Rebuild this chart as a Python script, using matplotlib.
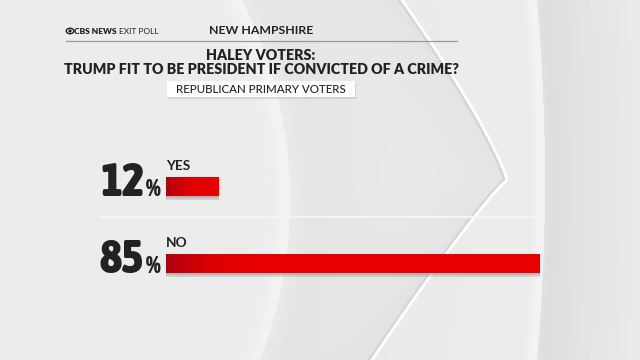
import numpy as np
import matplotlib
matplotlib.use("Agg")
import matplotlib.pyplot as plt
from matplotlib import font_manager
from matplotlib.patches import Rectangle, Circle, Ellipse
from matplotlib.colors import LinearSegmentedColormap

# data
categories = ["YES", "NO"]
values = [12, 85]
state = "NEW HAMPSHIRE"
title_lines = ["HALEY VOTERS:", "TRUMP FIT TO BE PRESIDENT IF CONVICTED OF A CRIME?"]
subtitle = "REPUBLICAN PRIMARY VOTERS"


def wnum(w):
    try:
        return int(w)
    except (TypeError, ValueError):
        return {"light": 300, "normal": 400, "regular": 400, "medium": 500,
                "semibold": 600, "bold": 700, "heavy": 800, "black": 900}.get(str(w).lower(), 400)


# look for any narrow face for the big numbers, heaviest first
cands = []
for f in font_manager.fontManager.ttflist:
    nm = (f.name + " " + str(f.stretch) + " " + f.fname).lower()
    if "narrow" in nm or "condensed" in nm or "compressed" in nm:
        cands.append((wnum(f.weight), f))
cands.sort(key=lambda c: -c[0])
if cands:
    num_font = font_manager.FontProperties(fname=cands[0][1].fname)
    num_size, pct_size, num_dx = 34, 17, -66
else:
    num_font = font_manager.FontProperties(family="DejaVu Sans", weight="bold")
    num_size, pct_size, num_dx = 29, 15, -80

W, H = 640, 360
fig = plt.figure(figsize=(6.4, 3.6), dpi=100)

# background (decoration only), pixel coordinates
bg = fig.add_axes([0, 0, 1, 1])
bg.set_xlim(0, W)
bg.set_ylim(H, 0)
bg.axis("off")

X, Y = np.meshgrid(np.arange(W) + 0.5, np.arange(H) + 0.5)
img = np.full((H, W), 0.925)
# big soft curve on the left
d1 = np.hypot(X + 150, Y - 200) - 440
img -= 0.04 * np.exp(-np.clip(d1, 0, None) / 70) * (d1 > 0)
img += 0.03 * np.exp(-(d1 / 14) ** 2)
# chevron shading
chev_tip = (505, 180)
dc = np.where(Y < chev_tip[1],
              chev_tip[0] - 105 * (1 - Y / chev_tip[1]) ** 1.2 - X,
              chev_tip[0] - 135 * ((Y - chev_tip[1]) / 180) ** 0.9 - X)
img -= 0.03 * np.exp(-np.clip(dc, 0, None) / 60) * (dc > 0)
# right arc
d2 = np.hypot(X + 1500, Y - 180) - 2045
img = np.where(d2 > 0, 0.865 + 0.05 * np.clip(d2 / 90, 0, 1), img)
img += 0.03 * np.exp(-((d2 + 4) / 6) ** 2)
bg.imshow(np.clip(img, 0, 1), cmap="gray", vmin=0, vmax=1,
          extent=(0, W, H, 0), aspect="auto", zorder=0, interpolation="bilinear")

ty = np.linspace(0, 1, 40)
upper_x = chev_tip[0] - 105 * (1 - ty) ** 1.2
upper_y = chev_tip[1] * ty
lower_y = chev_tip[1] + 180 * ty
lower_x = chev_tip[0] - 135 * ty ** 0.9
bg.plot(np.r_[upper_x, lower_x], np.r_[upper_y, lower_y], color="#c8c8c8", lw=3, alpha=0.5, zorder=1)
bg.plot(np.r_[upper_x, lower_x] + 2, np.r_[upper_y, lower_y], color="white", lw=2, zorder=1)

# header
text_col = "#222222"
bg.add_patch(Ellipse((70, 31), 7.5, 5.5, fill=False, lw=1.0, ec=text_col, zorder=3))
bg.add_patch(Circle((70, 31), 1.6, fc=text_col, ec="none", zorder=3))
cbs = bg.text(74, 31, "CBS NEWS", fontsize=6.0, fontweight="heavy", family="Lato",
              color=text_col, ha="left", va="center", zorder=3)
bg.text(261, 30.5, state, fontsize=8.8, fontweight="bold", family="Lato",
        color=text_col, ha="center", va="center", zorder=3)
bg.plot([66, 457], [41, 41], color="#9a9a9a", lw=0.9, zorder=2)
bg.text(261, 56, title_lines[0], fontsize=10.3, fontweight="heavy", family="Lato",
        color=text_col, ha="center", va="center", zorder=3)
bg.text(261, 69.5, title_lines[1], fontsize=10.3, fontweight="heavy", family="Lato",
        color=text_col, ha="center", va="center", zorder=3)
bg.add_patch(Rectangle((168, 83), 188, 16, fc="#bdbdbd", ec="none", alpha=0.5, zorder=2))
bg.add_patch(Rectangle((167, 81), 188, 16, fc="white", ec="none", zorder=3))
bg.text(261, 89.5, subtitle, fontsize=8.3, fontweight="medium", family="Lato",
        color=text_col, ha="center", va="center", zorder=4)

# separator between rows
bg.plot([100, 540], [217, 217], color="#f6f6f6", lw=1.3, zorder=2)

# bars
ax = fig.add_axes([166 / W, (H - 290) / H, 440 / W, 140 / H])
ax.patch.set_alpha(0)
ax.axis("off")
bar_h = 19 / 77
pos = np.arange(len(categories))

ax.barh(pos + 4 / 77, values, height=bar_h, color="#9a9a9a", alpha=0.35, zorder=1)
ax.barh(pos + 2 / 77, values, height=bar_h, color="#8a8a8a", alpha=0.35, zorder=1)
bars = ax.barh(pos, values, height=bar_h, color="#e60000", zorder=2)
grad = np.linspace(0, 1, 256)[None, :]
red_cmap = LinearSegmentedColormap.from_list("reds", ["#b3000f", "#e00000", "#e80000"])
for b, v in zip(bars, values):
    y0 = b.get_y()
    gw = min(v, 22)
    im = ax.imshow(np.clip(grad * (v / gw), 0, 1), cmap=red_cmap, vmin=0, vmax=1,
                   extent=(0, v, y0 + bar_h, y0), aspect="auto", zorder=3)
    im.set_clip_path(b)
ax.set_xlim(0, 100)
ax.set_ylim(-36.5 / 77 + 140 / 77, -36.5 / 77)

num_texts = []
for i, (cat, v) in enumerate(zip(categories, values)):
    ax.annotate(cat, xy=(0, i - bar_h / 2), xytext=(0, 7), textcoords="offset pixels",
                fontsize=9.8, fontweight="bold", family="Lato", color=text_col,
                ha="left", va="baseline", annotation_clip=False)
    t = ax.annotate(str(v), xy=(0, i + bar_h / 2), xytext=(num_dx, 0), textcoords="offset pixels",
                    fontproperties=num_font, fontsize=num_size,
                    color=text_col, ha="left", va="baseline", annotation_clip=False)
    num_texts.append(t)

fig.canvas.draw()
r = fig.canvas.get_renderer()
# EXIT POLL right after CBS NEWS
ce = cbs.get_window_extent(r)
bg.text(bg.transData.inverted().transform((ce.x1, 0))[0] + 2.5, 31, "EXIT POLL",
        fontsize=6.0, fontweight="normal", family="Lato",
        color=text_col, ha="left", va="center", zorder=3)
x0_px = ax.transData.transform((0, 0))[0]
for i, t in enumerate(num_texts):
    ext = t.get_window_extent(r)
    ax.annotate("%", xy=(0, i + bar_h / 2), xytext=(ext.x1 - x0_px + 1, 0),
                textcoords="offset pixels", fontproperties=num_font, fontsize=pct_size,
                color=text_col, ha="left", va="baseline", annotation_clip=False)

fig.savefig("out.png", dpi=100)
